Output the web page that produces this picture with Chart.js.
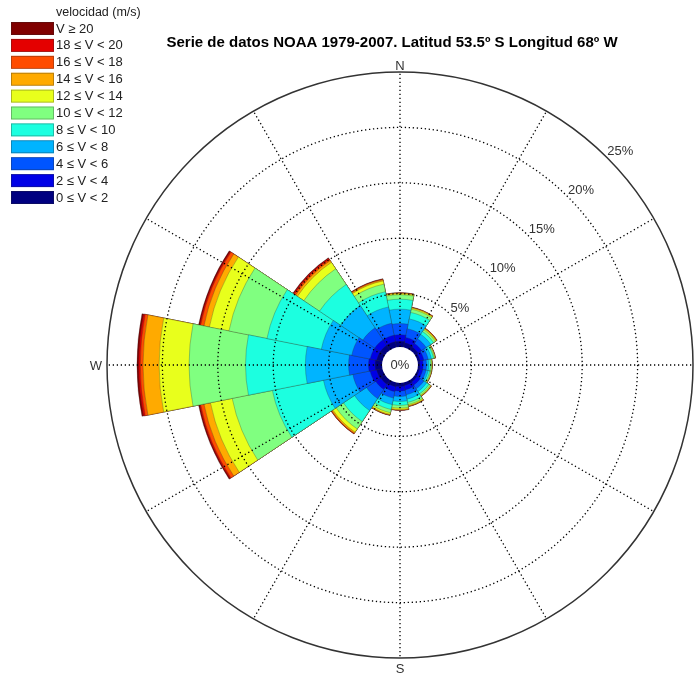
<!DOCTYPE html>
<html>
<head>
<meta charset="utf-8">
<script src="https://cdn.jsdelivr.net/npm/chart.js@4.4.0/dist/chart.umd.min.js"></script>
<style>
  html, body { margin: 0; padding: 0; background: #fff; }
</style>
</head>
<body>
<canvas id="rosa" width="697" height="677"></canvas>
<script>
// direcciones (sentido horario desde el Norte)
const direcciones = ["N", "NNE", "NE", "ENE", "E", "ESE", "SE", "SSE", "S", "SSW", "SW", "WSW", "W", "WNW", "NW", "NNW"];
const rangos = ["0 \u2264 V < 2", "2 \u2264 V < 4", "4 \u2264 V < 6", "6 \u2264 V < 8", "8 \u2264 V < 10", "10 \u2264 V < 12",
                "12 \u2264 V < 14", "14 \u2264 V < 16", "16 \u2264 V < 18", "18 \u2264 V < 20", "V \u2265 20"];

// frecuencia (%) de cada rango de velocidad por direccion
const frec0a2   = [0.70, 0.60, 0.50, 0.40, 0.35, 0.35, 0.40, 0.45, 0.50, 0.55, 0.65, 0.70, 0.80, 0.70, 0.70, 0.70];
const frec2a4   = [0.60, 0.50, 0.40, 0.35, 0.30, 0.30, 0.35, 0.40, 0.40, 0.45, 0.55, 0.60, 0.60, 0.60, 0.60, 0.60];
const frec4a6   = [1.00, 0.80, 0.50, 0.40, 0.30, 0.30, 0.40, 0.45, 0.50, 0.60, 1.00, 1.60, 1.80, 1.70, 1.30, 1.10];
const frec6a8   = [1.30, 0.90, 0.50, 0.30, 0.20, 0.20, 0.30, 0.40, 0.45, 0.60, 1.30, 2.70, 3.90, 2.80, 2.40, 1.50];
const frec8a10  = [0.90, 0.60, 0.30, 0.20, 0.15, 0.15, 0.25, 0.30, 0.35, 0.45, 1.20, 4.70, 5.40, 5.00, 2.30, 1.40];
const frec10a12 = [0.40, 0.30, 0.20, 0.10, 0.10, 0.10, 0.15, 0.20, 0.25, 0.30, 0.80, 3.70, 5.10, 3.50, 1.70, 0.70];
const frec12a14 = [0.10, 0.10, 0.10, 0.05, 0.05, 0.05, 0.07, 0.10, 0.12, 0.15, 0.35, 2.00, 2.70, 1.80, 0.70, 0.30];
const frec14a16 = [0.05, 0.05, 0.05, 0.02, 0.02, 0.02, 0.03, 0.05, 0.05, 0.06, 0.12, 0.60, 1.45, 0.50, 0.20, 0.10];
const frec16a18 = [0.02, 0.02, 0.02, 0.01, 0.01, 0.01, 0.01, 0.02, 0.02, 0.02, 0.05, 0.30, 0.25, 0.30, 0.15, 0.05];
const frec18a20 = [0.01, 0.01, 0.01, 0.01, 0.00, 0.00, 0.01, 0.01, 0.01, 0.01, 0.02, 0.10, 0.15, 0.10, 0.10, 0.03];
const frecMas20 = [0.01, 0.01, 0.01, 0.00, 0.00, 0.00, 0.00, 0.01, 0.01, 0.01, 0.01, 0.10, 0.15, 0.10, 0.05, 0.02];

const coloresRango = ["#000080", "#0000e6", "#0055ff", "#00b4ff", "#1cffe0", "#80ff80",
                      "#e8ff1c", "#ffaa00", "#ff4c00", "#e40000", "#800000"];

const marcasRadio = [5, 10, 15, 20, 25];   // circulos de la malla (%)
const minimoRadial = -1.44;                // el 0% queda en el borde del hueco central
const maximoRadial = 25;

const titulo = "Serie de datos NOAA 1979-2007. Latitud 53.5\u00ba S Longitud 68\u00ba W";
const tituloLeyenda = "velocidad (m/s)";

window.addEventListener("DOMContentLoaded", function() {
    const frecuencias = [frec0a2, frec2a4, frec4a6, frec6a8, frec8a10, frec10a12,
                         frec12a14, frec14a16, frec16a18, frec18a20, frecMas20];

    // acumulados: el dataset 0 (calma) se dibuja encima de todos
    const acumulado = direcciones.map(() => 0);
    const datasets = frecuencias.map(function(serie, k) {
        for (let i = 0; i < serie.length; i++) acumulado[i] += serie[i];
        return {
            label: rangos[k],
            data: acumulado.slice(),
            backgroundColor: coloresRango[k],
            borderColor: "rgba(40,40,40,0.35)",
            borderWidth: 0.8
        };
    });

    const decoracion = {
        id: "decoracionRosa",
        afterDatasetsDraw(chart) {
            const s = chart.scales.r, ctx = chart.ctx;
            const cx = s.xCenter, cy = s.yCenter;
            const r0 = s.getDistanceFromCenterForValue(0);
            const rMax = s.getDistanceFromCenterForValue(maximoRadial);
            ctx.save();
            ctx.fillStyle = "#fff";
            ctx.beginPath(); ctx.arc(cx, cy, r0 + 2, 0, 2 * Math.PI); ctx.fill();
            // radios punteados cada 30 grados
            ctx.strokeStyle = "#000"; ctx.lineWidth = 1.3; ctx.setLineDash([1.3, 2.7]);
            for (let a = 0; a < 360; a += 30) {
                const t = (a - 90) * Math.PI / 180;
                ctx.beginPath();
                ctx.moveTo(cx + (r0 + 2) * Math.cos(t), cy + (r0 + 2) * Math.sin(t));
                ctx.lineTo(cx + rMax * Math.cos(t), cy + rMax * Math.sin(t));
                ctx.stroke();
            }
            ctx.restore();
        },
        afterDraw(chart) {
            const s = chart.scales.r, ctx = chart.ctx;
            const cx = s.xCenter, cy = s.yCenter;
            const rMax = s.getDistanceFromCenterForValue(maximoRadial);
            ctx.save();
            ctx.font = "13px 'Liberation Sans', Arial, sans-serif";
            ctx.fillStyle = "#333";
            // porcentajes sobre la diagonal
            ctx.textAlign = "left"; ctx.textBaseline = "alphabetic";
            marcasRadio.forEach(function(v) {
                const d = s.getDistanceFromCenterForValue(v);
                ctx.fillText(v + "%", cx + d * Math.SQRT1_2, cy - d * Math.SQRT1_2 - 3);
            });
            ctx.textAlign = "center"; ctx.textBaseline = "middle";
            ctx.fillText("0%", cx, cy);
            // puntos cardinales
            ctx.textBaseline = "alphabetic";
            ctx.fillText("N", cx, cy - rMax - 2);
            ctx.fillText("S", cx, cy + rMax + 15);
            ctx.textAlign = "right"; ctx.textBaseline = "middle";
            ctx.fillText("W", cx - rMax - 5, cy + 1);

            // titulo
            ctx.fillStyle = "#000";
            ctx.font = "bold 15px 'Liberation Sans', Arial, sans-serif";
            ctx.textAlign = "center"; ctx.textBaseline = "alphabetic";
            ctx.fillText(titulo, 392, 47);

            // leyenda
            ctx.textAlign = "left"; ctx.textBaseline = "middle";
            ctx.fillStyle = "#222";
            ctx.font = "12.5px 'Liberation Sans', Arial, sans-serif";
            ctx.fillText(tituloLeyenda, 56, 13);
            ctx.font = "13px 'Liberation Sans', Arial, sans-serif";
            const ds = chart.data.datasets;
            for (let k = ds.length - 1, fila = 0; k >= 0; k--, fila++) {
                const y = 22 + fila * 16.9;
                ctx.fillStyle = ds[k].backgroundColor;
                ctx.fillRect(11, y, 43, 13);
                ctx.strokeStyle = "rgba(40,40,40,0.45)"; ctx.lineWidth = 0.7;
                ctx.strokeRect(11.5, y + 0.5, 42, 12);
                ctx.fillStyle = "#222";
                ctx.fillText(ds[k].label, 56, y + 7);
            }
            ctx.restore();
        }
    };

    new Chart(document.getElementById("rosa"), {
        type: "polarArea",
        data: { labels: direcciones, datasets: datasets },
        options: {
            responsive: false,
            animation: false,
            layout: { padding: { left: 107, right: 4, top: 72, bottom: 19 } },
            plugins: { legend: { display: false }, title: { display: false }, tooltip: { enabled: false } },
            scales: {
                r: {
                    type: "radialLinear",
                    min: minimoRadial,
                    max: maximoRadial,
                    startAngle: -11.25,
                    ticks: { display: false, z: 1 },
                    afterBuildTicks: function(escala) { escala.ticks = marcasRadio.map(v => ({ value: v })); },
                    pointLabels: { display: false },
                    angleLines: { display: false },
                    grid: {
                        circular: true,
                        z: 1,
                        color: c => (c.tick && c.tick.value === maximoRadial) ? "#333" : "#000",
                        lineWidth: c => (c.tick && c.tick.value === maximoRadial) ? 1.5 : 1.3
                    },
                    border: { dash: c => (c.tick && c.tick.value === maximoRadial) ? [] : [1.3, 2.7] }
                }
            }
        },
        plugins: [decoracion]
    });
});
</script>
</body>
</html>
